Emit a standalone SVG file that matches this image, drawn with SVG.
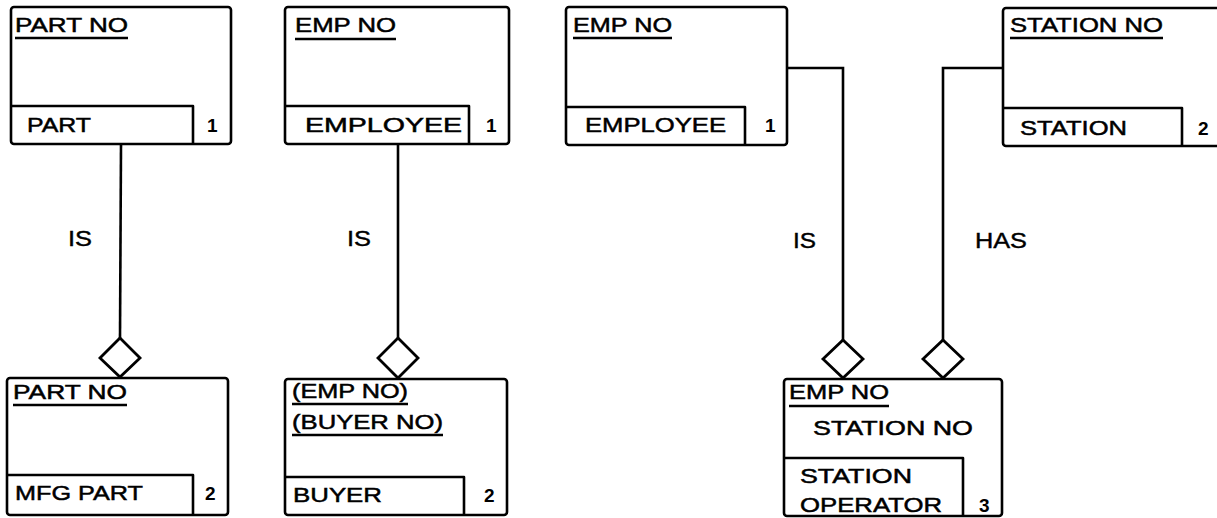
<svg xmlns="http://www.w3.org/2000/svg" width="1217" height="518" viewBox="0 0 1217 518">
<style>
.box{fill:none;stroke:#000;stroke-width:2.6}
.inner{fill:none;stroke:#000;stroke-width:2.6;stroke-linejoin:round}
.ul{stroke:#000;stroke-width:2.4}
.t{font-family:"Liberation Sans",Arial,sans-serif;font-size:21px;fill:#000;stroke:#000;stroke-width:0.5}
.l{font-family:"Liberation Sans",Arial,sans-serif;font-size:22px;fill:#000;stroke:#000;stroke-width:0.4}
.n{font-family:"Liberation Sans",Arial,sans-serif;font-size:19px;fill:#000;font-weight:bold}
.conn{fill:none;stroke:#000;stroke-width:2.6}
.dia{fill:#fff;stroke:#000;stroke-width:2.8}
</style>
<rect width="1217" height="518" fill="#fff"/>
<g id="connectors">
<line class="conn" x1="121" y1="144" x2="120" y2="338"/>
<polygon class="dia" points="120,338 140,358 120,377 100,358"/>
<line class="conn" x1="398" y1="144" x2="398" y2="338"/>
<polygon class="dia" points="398,338 418,358 398,378 378,358"/>
<polyline class="conn" points="787,68 843,68 843,340"/>
<polygon class="dia" points="843,340 863,359 843,378 823,359"/>
<polyline class="conn" points="1003,68 943,68 943,340"/>
<polygon class="dia" points="943,340 963,359 943,378 923,359"/>
<text class="l" x="68" y="246" textLength="24" lengthAdjust="spacingAndGlyphs">IS</text>
<text class="l" x="347" y="246" textLength="24" lengthAdjust="spacingAndGlyphs">IS</text>
<text class="l" x="793" y="248" textLength="23" lengthAdjust="spacingAndGlyphs">IS</text>
<text class="l" x="975" y="248" textLength="52" lengthAdjust="spacingAndGlyphs">HAS</text>
</g>
<g id="part">
<rect class="box" x="11" y="7" width="220" height="137" rx="3"/>
<path class="inner" d="M11 106 H193 V144"/>
<text class="t" x="15" y="32" textLength="113" lengthAdjust="spacingAndGlyphs">PART NO</text>
<line class="ul" x1="15" y1="38" x2="128" y2="38"/>
<text class="t" x="27" y="132" textLength="64" lengthAdjust="spacingAndGlyphs">PART</text>
<text class="n" x="207" y="132">1</text>
</g>
<g id="employee1">
<rect class="box" x="285" y="7" width="224" height="137" rx="3"/>
<path class="inner" d="M285 106 H469 V144"/>
<text class="t" x="295" y="32" textLength="101" lengthAdjust="spacingAndGlyphs">EMP NO</text>
<line class="ul" x1="295" y1="39" x2="396" y2="39"/>
<text class="t" x="305" y="132" textLength="157" lengthAdjust="spacingAndGlyphs">EMPLOYEE</text>
<text class="n" x="486" y="132">1</text>
</g>
<g id="employee2">
<rect class="box" x="566" y="7" width="221" height="138" rx="3"/>
<path class="inner" d="M566 107 H745 V145"/>
<text class="t" x="573" y="32" textLength="99" lengthAdjust="spacingAndGlyphs">EMP NO</text>
<line class="ul" x1="573" y1="38" x2="672" y2="38"/>
<text class="t" x="585" y="132" textLength="141" lengthAdjust="spacingAndGlyphs">EMPLOYEE</text>
<text class="n" x="765" y="132">1</text>
</g>
<g id="station">
<rect class="box" x="1003" y="8" width="226" height="138" rx="3"/>
<path class="inner" d="M1003 108 H1182 V146"/>
<text class="t" x="1010" y="32" textLength="153" lengthAdjust="spacingAndGlyphs">STATION NO</text>
<line class="ul" x1="1010" y1="38" x2="1163" y2="38"/>
<text class="t" x="1020" y="135" textLength="107" lengthAdjust="spacingAndGlyphs">STATION</text>
<text class="n" x="1198" y="135">2</text>
</g>
<g id="mfgpart">
<rect class="box" x="7" y="378" width="221" height="137" rx="3"/>
<path class="inner" d="M7 475 H193 V515"/>
<text class="t" x="13" y="399" textLength="114" lengthAdjust="spacingAndGlyphs">PART NO</text>
<line class="ul" x1="13" y1="405" x2="127" y2="405"/>
<text class="t" x="15" y="500" textLength="128" lengthAdjust="spacingAndGlyphs">MFG PART</text>
<text class="n" x="205" y="500">2</text>
</g>
<g id="buyer">
<rect class="box" x="285" y="379" width="222" height="136" rx="3"/>
<path class="inner" d="M285 477 H464 V515"/>
<text class="t" x="292" y="398" textLength="116" lengthAdjust="spacingAndGlyphs">(EMP NO)</text>
<line class="ul" x1="292" y1="404" x2="408" y2="404"/>
<text class="t" x="292" y="429" textLength="151" lengthAdjust="spacingAndGlyphs">(BUYER NO)</text>
<line class="ul" x1="292" y1="435" x2="443" y2="435"/>
<text class="t" x="293" y="502" textLength="89" lengthAdjust="spacingAndGlyphs">BUYER</text>
<text class="n" x="484" y="502">2</text>
</g>
<g id="stationoperator">
<rect class="box" x="784" y="379" width="218" height="137" rx="3"/>
<path class="inner" d="M784 458 H963 V516"/>
<text class="t" x="789" y="399" textLength="100" lengthAdjust="spacingAndGlyphs">EMP NO</text>
<line class="ul" x1="789" y1="406" x2="889" y2="406"/>
<text class="t" x="813" y="435" textLength="160" lengthAdjust="spacingAndGlyphs">STATION NO</text>
<text class="t" x="800" y="483" textLength="112" lengthAdjust="spacingAndGlyphs">STATION</text>
<text class="t" x="800" y="512" textLength="142" lengthAdjust="spacingAndGlyphs">OPERATOR</text>
<text class="n" x="979" y="512">3</text>
</g>
</svg>
